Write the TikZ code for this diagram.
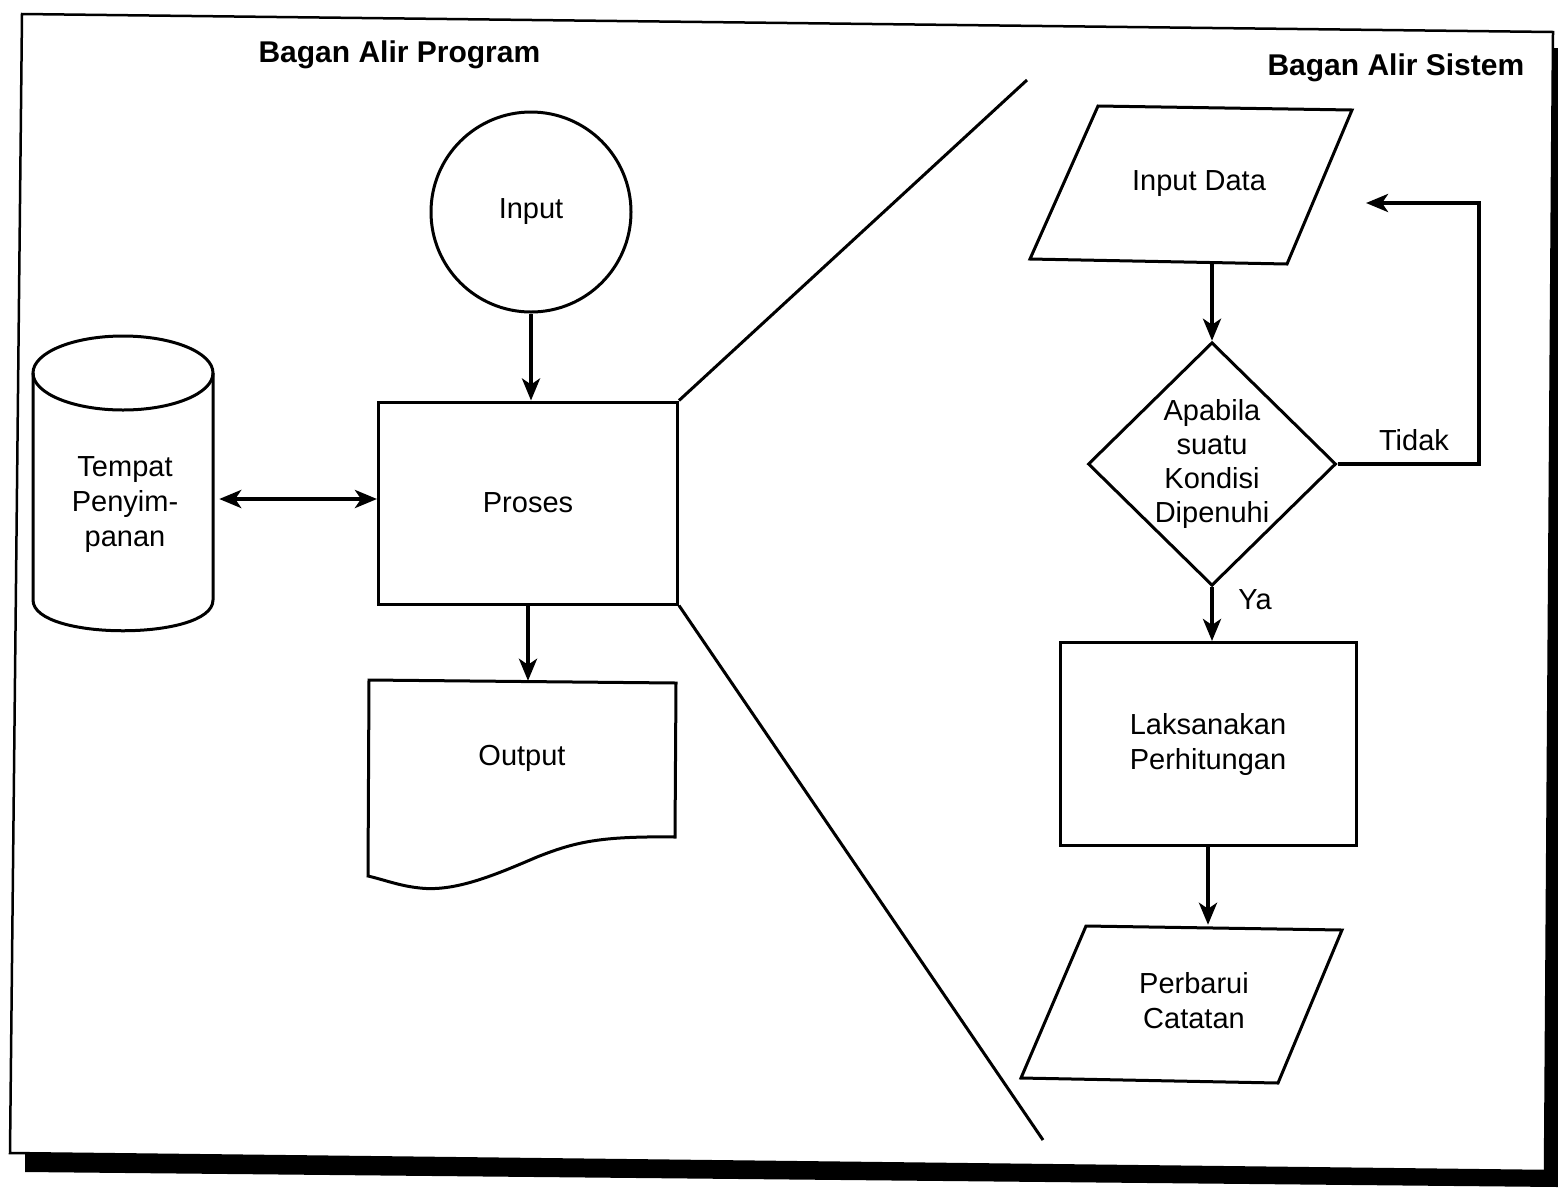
\documentclass[tikz,border=0pt]{standalone}
\usepackage{fontspec}
\setmainfont{Liberation Sans}
\usetikzlibrary{arrows.meta,shapes.geometric}

\begin{document}
\begin{tikzpicture}[x=1pt,y=-1pt,
    every node/.style={font=\fontsize{29}{35}\selectfont, align=center},
    box/.style={draw, line width=3pt, inner sep=0pt},
    arr/.style={line width=4pt, -{Stealth[length=22pt,width=18pt,inset=6pt]}},
    judul/.style={font=\fontsize{30}{36}\selectfont\bfseries, anchor=base west}]

    \fill[white] (0,0) rectangle (1558,1187);
    \useasboundingbox (0,0) rectangle (1558,1187);
    \fill (25,1153) -- (1545,1171) -- (1553,48) -- (1558,48) -- (1558,1187) -- (25,1172) -- cycle;
    \draw[line width=2.5pt, fill=white] (22,14) -- (1553,32) -- (1545,1171) -- (10,1153) -- cycle;

    \node[judul] (judulprog) at (255,62) {Bagan Alir Program};
    \node[judul] (judulsis) at (1264,75) {Bagan Alir Sistem};

    \node[box, circle, minimum size=200pt] (input) at (531,212) {Input};
    \node[box, minimum width=299pt, minimum height=202pt] (proses) at (528,503) {Proses};
    \draw[arr] (input.south) -- (input.south |- proses.north);

    \draw[line width=3pt] (123,373) ellipse [x radius=90pt, y radius=37pt];
    \draw[line width=3pt] (33,373) -- (33,600) .. controls (33,641) and (213,641) .. (213,600) -- (213,373);
    \node[minimum width=188pt] (tempat) at (125,505) {Tempat\\Penyim-\\panan};
    \coordinate (prosesk) at ([yshift=4pt]proses.west);
    \draw[line width=4pt, {Stealth[length=22pt,width=18pt,inset=6pt]}-{Stealth[length=22pt,width=18pt,inset=6pt]}]
        (tempat.east |- prosesk) -- (prosesk);

    \node[minimum width=307pt, minimum height=154pt] (output) at (522,758) {Output};
    \draw[line width=3pt] (369,680) -- (676,683) -- (675,837)
        .. controls (600,836) and (575,842) .. (537,857)
        .. controls (495,875) and (455,892) .. (420,888)
        .. controls (400,886) and (385,880) .. (368,876) -- cycle;
    \draw[arr] (proses.south) -- (proses.south |- output.north);

    \coordinate (atas) at (1027,80);
    \coordinate (bawah) at (1043,1140);
    \draw[line width=3pt] (proses.north east) -- (atas);
    \draw[line width=3pt] (proses.south east) -- (bawah);

    \draw[line width=3pt] (1030,259) -- (1098,106) -- (1352,110) -- (1287,264) -- cycle;
    \node[minimum height=155pt] (inputdata) at (1199,184) {Input Data};
    \node[box, diamond, minimum width=248pt, minimum height=242pt, aspect=1,
        font=\fontsize{29}{34}\selectfont] (kondisi) at (1212,464) {Apabila\\suatu\\Kondisi\\Dipenuhi};
    \node[box, minimum width=296pt, minimum height=203pt] (laksana) at (1208,744) {Laksanakan\\Perhitungan};
    \draw[line width=3pt] (1021,1078) -- (1086,926) -- (1342,930) -- (1278,1083) -- cycle;
    \node[minimum height=152pt] (perbarui) at (1194,1001) {Perbarui\\Catatan};

    \draw[arr] (kondisi.north |- inputdata.south) -- (kondisi.north);
    \coordinate (sudut) at (1479,203);
    \coordinate (balik) at (1366,203);
    \draw[arr] (kondisi.east) -| (sudut) -- (balik);
    \node (tidak) at (1414,440) {Tidak};
    \draw[arr] (kondisi.south) -- (kondisi.south |- laksana.north);
    \node (ya) at (1255,600) {Ya};
    \draw[arr] (laksana.south) -- (laksana.south |- perbarui.north);
\end{tikzpicture}
\end{document}
